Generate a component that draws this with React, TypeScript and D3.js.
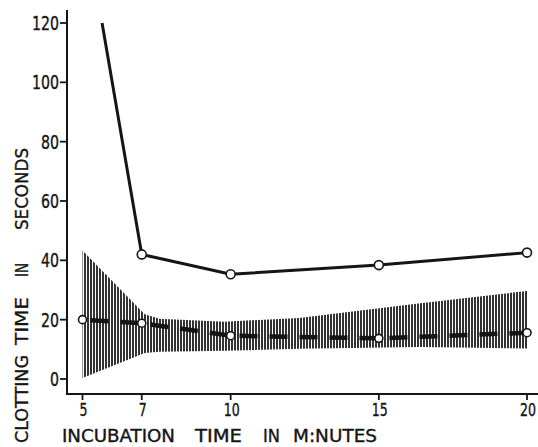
import React from "react";
import * as d3 from "d3";

// incubation time (minutes) vs clotting time (seconds)
const solidMinutes = [5.66, 7, 10, 15, 20];
const solidSeconds = [120, 42, 35.3, 38.4, 42.6];
const solidMarked = [false, true, true, true, true];

const dashMinutes = [5, 7, 10, 15, 20];
const dashSeconds = [20, 18.8, 14.6, 13.7, 15.6];

// hatched range around the dashed curve
const bandMinutes = [5, 7.1, 7.6, 9.8, 12.3, 16.4, 20];
const bandUpper = [43.3, 21.8, 20.3, 19.3, 20.6, 25.5, 29.7];
const bandLower = [0.3, 8.8, 9.2, 9.5, 10.2, 10.8, 10.3];

const xTicks = [5, 7, 10, 15, 20];
const yTicks = [0, 20, 40, 60, 80, 100, 120];

const FONT = "'DejaVu Sans Condensed', 'DejaVu Sans', sans-serif";
const INK = "#151515";

export default function App() {
  const W = 538;
  const H = 447;
  const axisX = 67;
  const axisY = 394;

  const x = d3.scaleLinear().domain([5, 20]).range([82.5, 527]);
  const y = d3.scaleLinear().domain([0, 120]).range([379, 23]);

  const solid = solidMinutes.map((m, i) => ({ m, s: solidSeconds[i], mark: solidMarked[i] }));
  const dashed = dashMinutes.map((m, i) => ({ m, s: dashSeconds[i] }));
  const band = bandMinutes.map((m, i) => ({ m, hi: bandUpper[i], lo: bandLower[i] }));

  const line = d3.line<{ m: number; s: number }>().x(d => x(d.m)).y(d => y(d.s));
  const area = d3
    .area<{ m: number; hi: number; lo: number }>()
    .x(d => x(d.m))
    .y0(d => y(d.lo))
    .y1(d => y(d.hi));

  // words of the axis titles, with their extents
  const xTitle = [
    { w: "INCUBATION", x0: 62, x1: 175 },
    { w: "TIME", x0: 195, x1: 242 },
    { w: "IN", x0: 263, x1: 280 },
    { w: "M:NUTES", x0: 293, x1: 377 },
  ];
  const yTitle = [
    { w: "CLOTTING", y0: 443, y1: 355 },
    { w: "TIME", y0: 345, y1: 297 },
    { w: "IN", y0: 277, y1: 263 },
    { w: "SECONDS", y0: 230, y1: 148 },
  ];

  const textStyle = { stroke: INK, strokeWidth: 0.35 };

  return (
    <div style={{ position: "fixed", left: 0, top: 0 }}>
      <svg width={W} height={H} style={{ display: "block", background: "#fff" }}>
        <defs>
          <pattern id="hatch" patternUnits="userSpaceOnUse" width={3} height={10} x={0} y={0}>
            <rect x={0} y={0} width={2} height={10} fill="#333" />
          </pattern>
        </defs>

        <path d={area(band) || ""} fill="url(#hatch)" />

        <path d={line(dashed) || ""} fill="none" stroke={INK} strokeWidth={4.5} strokeDasharray="18 12" strokeDashoffset={-8} />
        <path d={line(solid) || ""} fill="none" stroke={INK} strokeWidth={3} />

        {dashed.map((d, i) => (
          <circle key={"d" + i} cx={x(d.m)} cy={y(d.s)} r={4} fill="#fff" stroke={INK} strokeWidth={1.6} />
        ))}
        {solid.filter(d => d.mark).map((d, i) => (
          <circle key={"s" + i} cx={x(d.m)} cy={y(d.s)} r={4.5} fill="#fff" stroke={INK} strokeWidth={1.6} />
        ))}

        {/* axes */}
        <line x1={axisX} x2={axisX} y1={10} y2={axisY + 1} stroke={INK} strokeWidth={2} />
        <line x1={axisX - 1} x2={W} y1={axisY} y2={axisY} stroke={INK} strokeWidth={2} />

        {yTicks.map(t => (
          <g key={"y" + t}>
            <line x1={axisX - 7} x2={axisX} y1={y(t)} y2={y(t)} stroke={INK} strokeWidth={1.8} />
            <text
              x={59}
              y={y(t)}
              dy="0.36em"
              textAnchor="end"
              fontFamily={FONT}
              fontSize={19}
              fill={INK}
              style={textStyle}
              textLength={9 * String(t).length}
              lengthAdjust="spacingAndGlyphs"
            >
              {t}
            </text>
          </g>
        ))}

        {xTicks.map(t => (
          <g key={"x" + t}>
            <line x1={x(t)} x2={x(t)} y1={axisY} y2={axisY + 6} stroke={INK} strokeWidth={1.8} />
            <text
              x={Math.min(x(t) + 1 + 4 * String(t).length, W - 1)}
              y={415.5}
              textAnchor="end"
              fontFamily={FONT}
              fontSize={18}
              fill={INK}
              style={textStyle}
              textLength={8 * String(t).length}
              lengthAdjust="spacingAndGlyphs"
            >
              {t}
            </text>
          </g>
        ))}

        {xTitle.map(t => (
          <text
            key={"xt" + t.w}
            x={t.x0}
            y={441.5}
            fontFamily={FONT}
            fontSize={18}
            fill={INK}
            style={textStyle}
            textLength={t.x1 - t.x0}
            lengthAdjust="spacingAndGlyphs"
          >
            {t.w}
          </text>
        ))}

        {yTitle.map(t => (
          <text
            key={"yt" + t.w}
            transform={`translate(27.5,${t.y0}) rotate(-90)`}
            fontFamily={FONT}
            fontSize={18}
            fill={INK}
            style={textStyle}
            textLength={t.y0 - t.y1}
            lengthAdjust="spacingAndGlyphs"
          >
            {t.w}
          </text>
        ))}
      </svg>
    </div>
  );
}
